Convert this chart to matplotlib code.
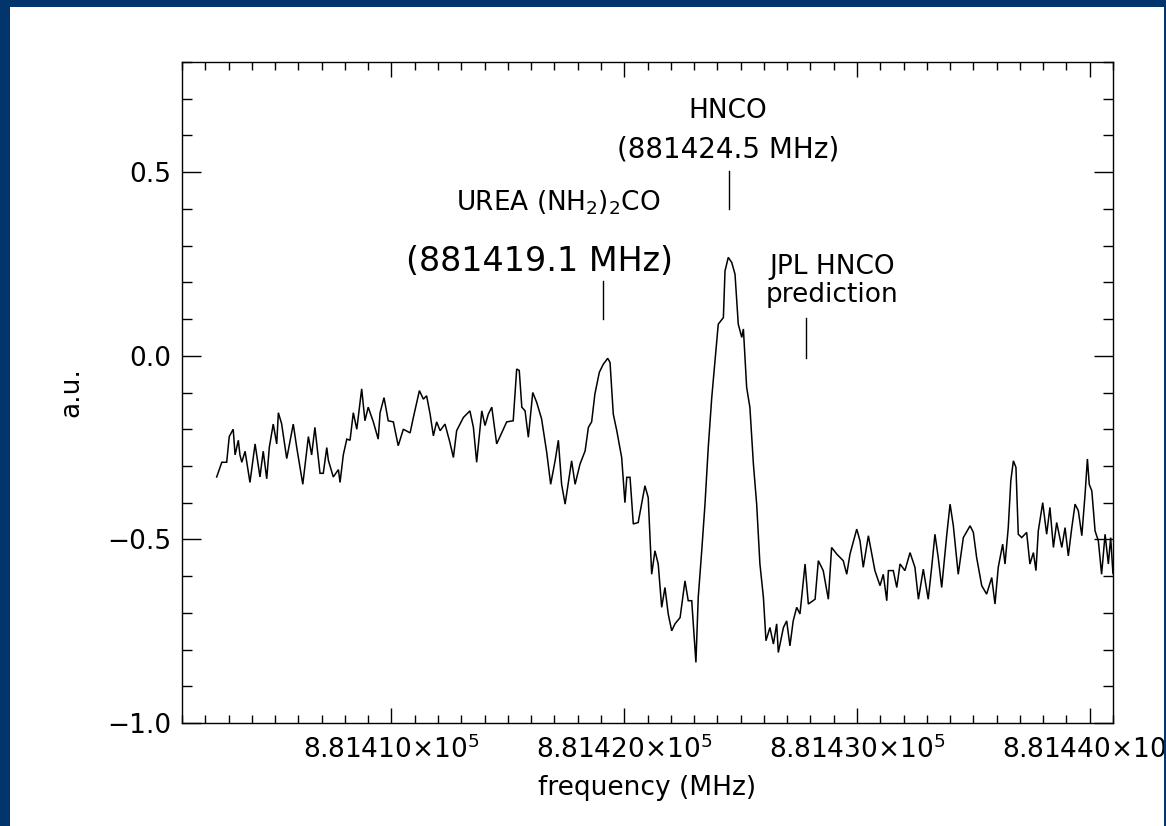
import matplotlib
matplotlib.use("Agg")
import matplotlib.pyplot as plt
from matplotlib.ticker import MultipleLocator, FuncFormatter
from matplotlib.patches import Rectangle

# ---------------- data ----------------
freq_mhz = [
    881402.49, 881402.71, 881402.92, 881403.03, 881403.20, 881403.28, 881403.42, 881403.49,
    881403.57, 881403.71, 881403.92, 881404.14, 881404.35, 881404.49, 881404.64, 881404.75,
    881404.92, 881405.07, 881405.14, 881405.28, 881405.50, 881405.78, 881405.93, 881406.19,
    881406.43, 881406.57, 881406.71, 881406.93, 881407.07, 881407.22, 881407.29, 881407.50,
    881407.72, 881407.79, 881407.93, 881408.08, 881408.22, 881408.36, 881408.51, 881408.72,
    881408.86, 881409.00, 881409.22, 881409.43, 881409.51, 881409.68, 881409.86, 881410.08,
    881410.29, 881410.51, 881410.80, 881410.94, 881411.20, 881411.37, 881411.51, 881411.66,
    881411.80, 881411.94, 881412.09, 881412.30, 881412.51, 881412.66, 881412.80, 881413.09,
    881413.37, 881413.52, 881413.66, 881413.88, 881414.02, 881414.16, 881414.31, 881414.52,
    881414.74, 881414.95, 881415.23, 881415.38, 881415.49, 881415.60, 881415.74, 881415.88,
    881416.07, 881416.24, 881416.45, 881416.67, 881416.84, 881417.03, 881417.17, 881417.31,
    881417.46, 881417.74, 881417.89, 881418.10, 881418.32, 881418.46, 881418.60, 881418.74,
    881418.93, 881419.10, 881419.29, 881419.39, 881419.53, 881419.68, 881419.89, 881420.03,
    881420.11, 881420.25, 881420.39, 881420.60, 881420.89, 881421.03, 881421.18, 881421.32,
    881421.46, 881421.61, 881421.75, 881421.89, 881422.04, 881422.18, 881422.40, 881422.61,
    881422.75, 881422.90, 881423.08, 881423.18, 881423.33, 881423.47, 881423.61, 881423.76,
    881423.90, 881424.04, 881424.26, 881424.33, 881424.47, 881424.62, 881424.76, 881424.90,
    881425.05, 881425.12, 881425.26, 881425.40, 881425.55, 881425.69, 881425.83, 881425.98,
    881426.09, 881426.26, 881426.41, 881426.55, 881426.62, 881426.84, 881426.98, 881427.12,
    881427.26, 881427.41, 881427.55, 881427.77, 881427.91, 881428.20, 881428.34, 881428.55,
    881428.77, 881428.91, 881429.13, 881429.41, 881429.56, 881429.70, 881429.99, 881430.13,
    881430.27, 881430.49, 881430.77, 881430.99, 881431.13, 881431.28, 881431.35, 881431.56,
    881431.71, 881431.85, 881432.06, 881432.28, 881432.49, 881432.64, 881432.85, 881433.06,
    881433.21, 881433.35, 881433.49, 881433.64, 881433.86, 881434.00, 881434.14, 881434.35,
    881434.57, 881434.86, 881435.00, 881435.14, 881435.36, 881435.57, 881435.79, 881435.93,
    881436.07, 881436.26, 881436.36, 881436.50, 881436.61, 881436.72, 881436.83, 881436.93,
    881437.08, 881437.29, 881437.43, 881437.58, 881437.69, 881437.79, 881437.98, 881438.15,
    881438.29, 881438.44, 881438.58, 881438.80, 881438.94, 881439.08, 881439.23, 881439.37,
    881439.51, 881439.66, 881439.80, 881439.90, 881439.98, 881440.09, 881440.23, 881440.37,
    881440.51, 881440.66, 881440.80, 881440.90, 881441.00, 881441.20,
]

intensity = [
    -0.33, -0.29, -0.29, -0.22, -0.20, -0.27, -0.23, -0.27,
    -0.29, -0.26, -0.345, -0.24, -0.33, -0.26, -0.335, -0.25,
    -0.186, -0.24, -0.155, -0.185, -0.28, -0.186, -0.25, -0.35,
    -0.22, -0.27, -0.195, -0.32, -0.32, -0.25, -0.285, -0.33,
    -0.31, -0.345, -0.27, -0.227, -0.23, -0.155, -0.20, -0.09,
    -0.177, -0.14, -0.18, -0.227, -0.155, -0.114, -0.177, -0.18,
    -0.245, -0.20, -0.21, -0.168, -0.095, -0.118, -0.109, -0.159,
    -0.218, -0.18, -0.204, -0.186, -0.236, -0.277, -0.204, -0.168,
    -0.15, -0.195, -0.29, -0.15, -0.19, -0.159, -0.14, -0.24,
    -0.209, -0.18, -0.177, -0.036, -0.04, -0.14, -0.15, -0.222,
    -0.10, -0.127, -0.172, -0.263, -0.35, -0.286, -0.23, -0.35,
    -0.404, -0.286, -0.35, -0.295, -0.259, -0.195, -0.18, -0.104,
    -0.045, -0.023, -0.007, -0.018, -0.159, -0.204, -0.277, -0.40,
    -0.331, -0.331, -0.458, -0.454, -0.354, -0.386, -0.595, -0.531,
    -0.567, -0.685, -0.631, -0.703, -0.749, -0.73, -0.713, -0.613,
    -0.667, -0.667, -0.835, -0.658, -0.531, -0.404, -0.25, -0.114,
    -0.014, 0.086, 0.104, 0.231, 0.268, 0.254, 0.222, 0.086,
    0.05, 0.073, -0.086, -0.141, -0.295, -0.404, -0.567, -0.658,
    -0.776, -0.74, -0.785, -0.73, -0.808, -0.74, -0.722, -0.79,
    -0.722, -0.685, -0.703, -0.567, -0.676, -0.663, -0.558, -0.585,
    -0.663, -0.522, -0.54, -0.558, -0.595, -0.54, -0.472, -0.504,
    -0.576, -0.49, -0.585, -0.626, -0.595, -0.667, -0.585, -0.585,
    -0.631, -0.567, -0.585, -0.536, -0.576, -0.663, -0.581, -0.663,
    -0.576, -0.486, -0.549, -0.631, -0.486, -0.404, -0.463, -0.595,
    -0.495, -0.463, -0.481, -0.549, -0.626, -0.649, -0.604, -0.676,
    -0.576, -0.513, -0.567, -0.468, -0.34, -0.286, -0.304, -0.486,
    -0.495, -0.481, -0.567, -0.536, -0.585, -0.477, -0.40, -0.486,
    -0.413, -0.522, -0.454, -0.522, -0.468, -0.545, -0.468, -0.404,
    -0.422, -0.49, -0.377, -0.281, -0.35, -0.368, -0.477, -0.504,
    -0.595, -0.486, -0.567, -0.495, -0.595, -0.50,
]

line_labels = ["UREA", "HNCO", "JPL"]
line_freqs = [881419.1, 881424.5, 881427.8]

NAVY = "#02356b"
FS = 19

plt.rcParams["font.family"] = ["DejaVu Sans"]

W, H = 1166, 826
fig = plt.figure(figsize=(W / 100, H / 100), dpi=100)
fig.patch.set_facecolor("white")

ax = fig.add_axes([182 / W, (H - 723) / H, (1113 - 182) / W, (723 - 62) / H])
ax.plot(freq_mhz, intensity, color="black", lw=1.1, solid_joinstyle="miter")

ax.set_xlim(881401, 881441)
ax.set_ylim(-1.0, 0.8)

ax.xaxis.set_major_locator(MultipleLocator(10))
ax.xaxis.set_minor_locator(MultipleLocator(1))
ax.yaxis.set_major_locator(MultipleLocator(0.5))
ax.yaxis.set_minor_locator(MultipleLocator(0.1))


def xfmt(v, pos):
    return r"$\mathregular{%.5f{\times}10^{5}}$" % (v / 1e5)


def yfmt(v, pos):
    s = "%.1f" % v
    if s == "-0.0":
        s = "0.0"
    return s.replace("-", "\u2212")


ax.xaxis.set_major_formatter(FuncFormatter(xfmt))
ax.yaxis.set_major_formatter(FuncFormatter(yfmt))

ax.tick_params(which="both", direction="in", top=True, right=True,
               width=1.0, labelsize=FS, color="black")
ax.tick_params(axis="x", which="major", length=11, pad=9)
ax.tick_params(axis="x", which="minor", length=6)
ax.tick_params(axis="y", which="major", length=14, pad=8)
ax.tick_params(axis="y", which="minor", length=7.5)
for sp in ax.spines.values():
    sp.set_linewidth(1.0)

ax.set_xlabel("frequency (MHz)", fontsize=FS, labelpad=8)
ax.set_ylabel("a.u.", fontsize=FS, labelpad=16)

# line markers
ax.plot([line_freqs[0]] * 2, [0.101, 0.204], color="black", lw=1.0)
ax.plot([line_freqs[1]] * 2, [0.40, 0.504], color="black", lw=1.0)
ax.plot([line_freqs[2]] * 2, [-0.005, 0.103], color="black", lw=1.0)

ax.text(881424.46, 0.648, "HNCO", ha="center", va="baseline", fontsize=FS)
ax.text(881424.46, 0.539, "(881424.5 MHz)", ha="center", va="baseline", fontsize=FS + 1)
ax.text(881417.15, 0.395, r"UREA (NH$_2$)$_2$CO", ha="center", va="baseline", fontsize=FS)
ax.text(881416.38, 0.231, "(881419.1 MHz)", ha="center", va="baseline", fontsize=FS + 5)
ax.text(881428.93, 0.223, "JPL HNCO", ha="center", va="baseline", fontsize=FS)
ax.text(881428.93, 0.147, "prediction", ha="center", va="baseline", fontsize=FS)

# navy frame
fig.add_artist(Rectangle((0, 0), 10 / W, 1, transform=fig.transFigure,
                         facecolor=NAVY, edgecolor="none", zorder=20))
fig.add_artist(Rectangle((0, 1 - 7 / H), 1, 7 / H, transform=fig.transFigure,
                         facecolor=NAVY, edgecolor="none", zorder=20))
fig.add_artist(Rectangle((1 - 2 / W, 0), 2 / W, 1, transform=fig.transFigure,
                         facecolor=NAVY, edgecolor="none", zorder=20))

fig.savefig("out.png", dpi=100)
